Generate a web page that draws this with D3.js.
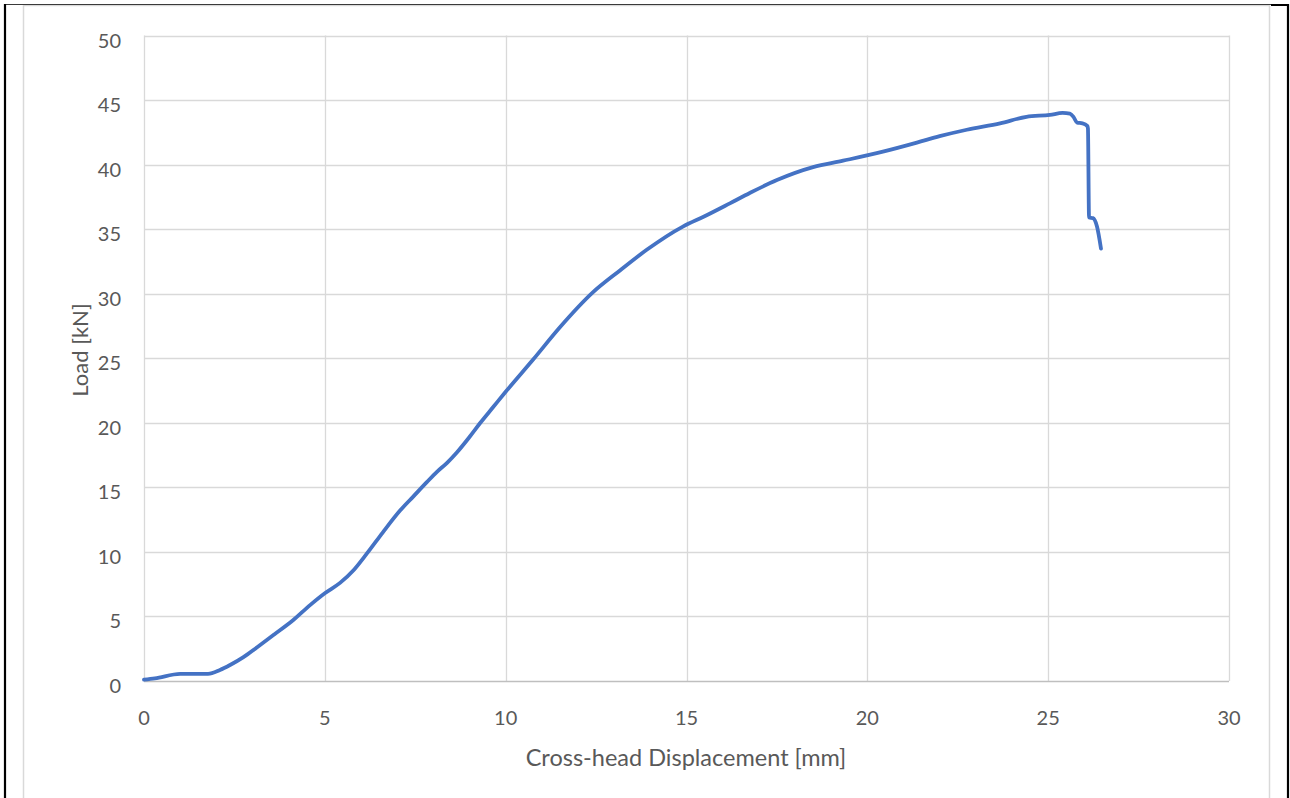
<!DOCTYPE html>
<html><head><meta charset="utf-8">
<script src="https://cdn.jsdelivr.net/npm/d3@7"></script>
<style>body{margin:0;background:#fff;}svg{display:block;}</style>
</head><body>
<svg id="c" width="1290" height="798"></svg>
<script>
const xTicks = [0,5,10,15,20,25,30];
const yTicks = [0,5,10,15,20,25,30,35,40,45,50];
const displacement = [0,0.3,1.0,1.77,2.1,2.38,2.75,3.12,3.6,4.12,4.6,5.0,5.42,5.8,6.17,6.6,7.08,7.45,7.82,8.1,8.38,8.65,9.0,9.3,9.65,10.0,10.76,11.5,12.41,13.16,13.9,14.9,15.5,16.2,16.75,17.5,18.5,19.33,20.43,21.37,22.0,22.75,23.67,24.4,25.05,25.4,25.6,25.7,25.8,25.95,26.08,26.1,26.13,26.24,26.35,26.46];
const load = [0.1,0.2,0.55,0.55,0.85,1.24,1.85,2.6,3.6,4.7,5.9,6.8,7.6,8.6,9.9,11.5,13.2,14.3,15.4,16.2,16.9,17.7,18.9,20.0,21.2,22.4,24.9,27.4,30.1,31.8,33.4,35.2,36.0,37.0,37.8,38.8,39.8,40.3,41.0,41.7,42.2,42.7,43.2,43.7,43.85,44.0,43.95,43.7,43.25,43.2,43.0,42.8,35.9,35.85,35.2,33.5];
const xTitle = "Cross-head Displacement [mm]";
const yTitle = "Load [kN]";

const svg = d3.select("#c");
const font = "Lato, 'Open Sans', sans-serif";
const x = d3.scaleLinear().domain([0,30]).range([144,1229]);
const y = d3.scaleLinear().domain([0,50]).range([681,35.5]);

// outer frame
svg.append("rect").attr("x",23.5).attr("y",5.5).attr("width",1246).attr("height",800).attr("fill","none").attr("stroke","#d9d9d9").attr("stroke-width",1.5);
svg.append("line").attr("x1",5).attr("x2",1271).attr("y1",4.5).attr("y2",4.5).attr("stroke","#3a3a3a").attr("stroke-width",1.2);
svg.append("line").attr("x1",1271).attr("x2",1289).attr("y1",5).attr("y2",5).attr("stroke","#000").attr("stroke-width",2);
svg.append("line").attr("x1",5).attr("x2",5).attr("y1",4).attr("y2",798).attr("stroke","#000").attr("stroke-width",2.2);
svg.append("line").attr("x1",1288).attr("x2",1288).attr("y1",4).attr("y2",798).attr("stroke","#000").attr("stroke-width",2.2);

// gridlines
const g = svg.append("g");
g.selectAll(".hg").data(yTicks.filter(d=>d>0)).join("line")
  .attr("x1",x(0)).attr("x2",x(30)).attr("y1",d=>Math.round(y(d))+0.5).attr("y2",d=>Math.round(y(d))+0.5)
  .attr("stroke","#d9d9d9").attr("stroke-width",1.3);
g.selectAll(".vg").data(xTicks).join("line")
  .attr("y1",y(0)).attr("y2",y(50)).attr("x1",d=>Math.round(x(d))+0.5).attr("x2",d=>Math.round(x(d))+0.5)
  .attr("stroke","#d9d9d9").attr("stroke-width",1.3);
// x axis line
g.append("line").attr("x1",x(0)).attr("x2",x(30)).attr("y1",y(0)+0.5).attr("y2",y(0)+0.5).attr("stroke","#bfbfbf").attr("stroke-width",1.3);

// tick labels
svg.selectAll(".yl").data(yTicks).join("text")
  .attr("x",121).attr("y",d=>y(d)+4).attr("text-anchor","end").attr("dominant-baseline","central")
  .attr("font-family",font).attr("font-size",20).attr("fill","#595959").text(d=>d);
svg.selectAll(".xl").data(xTicks).join("text")
  .attr("x",d=>x(d)).attr("y",716.5).attr("text-anchor","middle").attr("dominant-baseline","central")
  .attr("font-family",font).attr("font-size",20).attr("fill","#595959").text(d=>d);

// titles
svg.append("text").attr("x",686).attr("y",757).attr("text-anchor","middle").attr("dominant-baseline","central")
  .attr("font-family",font).attr("font-size",23.5).attr("fill","#595959").text(xTitle);
svg.append("text").attr("transform","translate(79,350) rotate(-90)").attr("text-anchor","middle").attr("dominant-baseline","central")
  .attr("font-family",font).attr("font-size",22).attr("fill","#595959").text(yTitle);

// data line
const pts = displacement.map((d,i)=>[d,load[i]]);
const line = d3.line().x(d=>x(d[0])).y(d=>y(d[1])).curve(d3.curveMonotoneX);
svg.append("path").datum(pts).attr("d",line).attr("fill","none").attr("stroke","#4472C4")
  .attr("stroke-width",3.8).attr("stroke-linecap","round").attr("stroke-linejoin","round");
</script>
</body></html>
